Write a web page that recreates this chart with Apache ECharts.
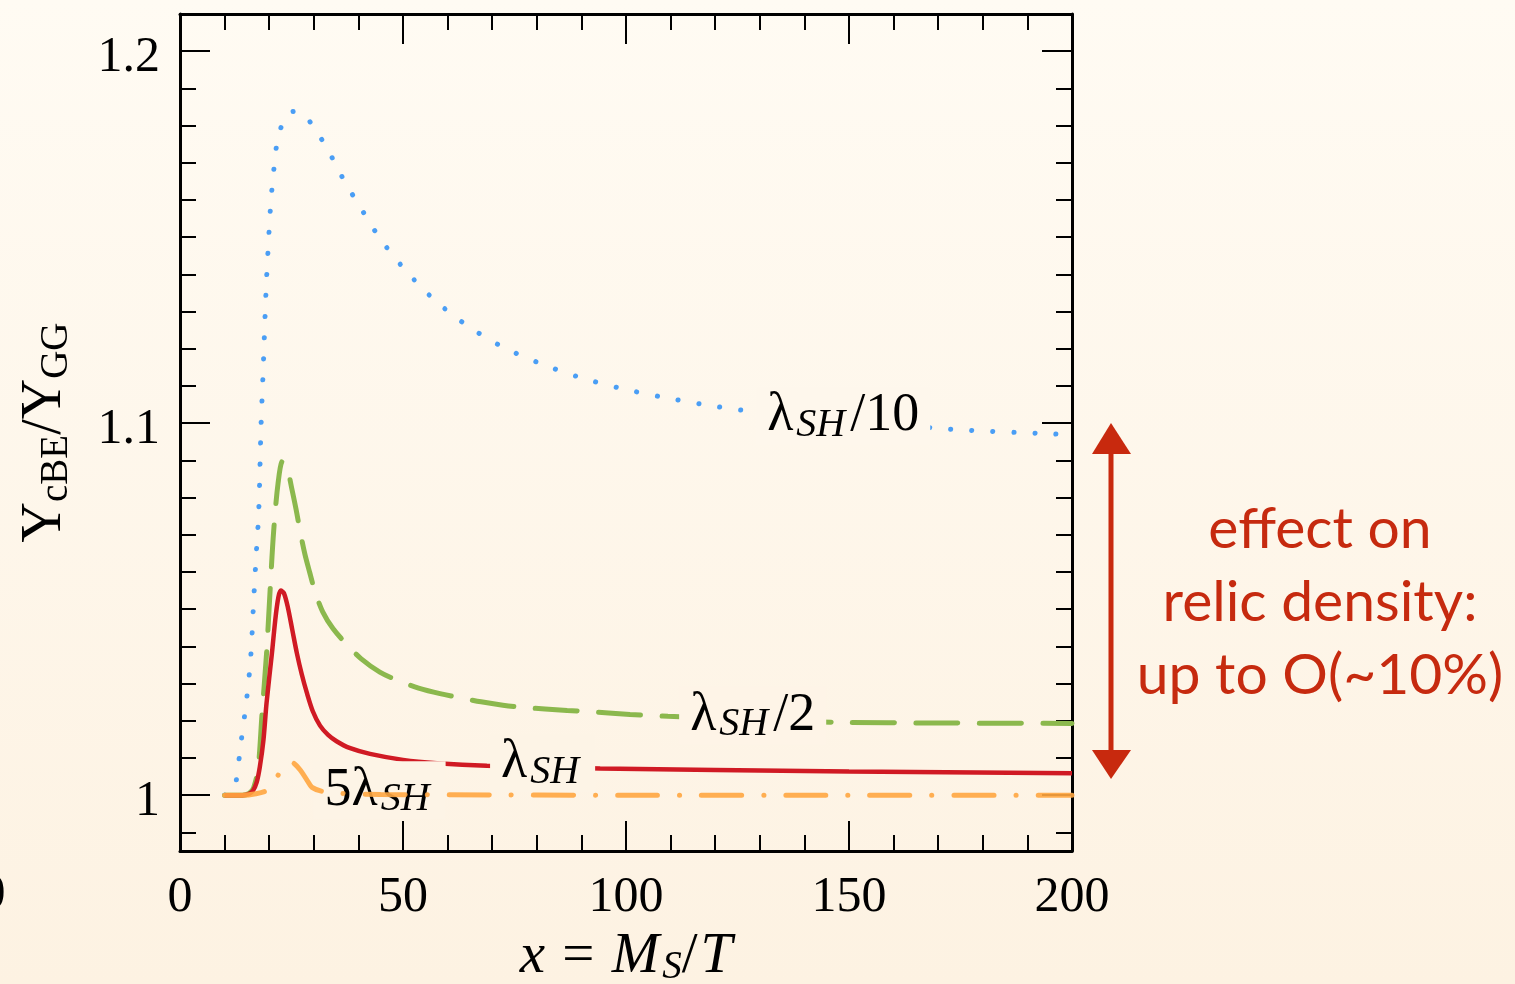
<!DOCTYPE html>
<html><head><meta charset="utf-8">
<script src="https://cdn.jsdelivr.net/npm/echarts@6/dist/echarts.min.js"></script>
<style>html,body{margin:0;padding:0;width:1515px;height:984px;overflow:hidden;} #c{width:1515px;height:984px;}</style>
</head><body><div id="c"></div><script>
// ---- data ----
const xTicks = [0, 50, 100, 150, 200];
const yTicksMajor = [1, 1.1, 1.2];
const yTicksMinor = [0.99, 1.01, 1.02, 1.03, 1.04, 1.05, 1.06, 1.07, 1.08, 1.09, 1.11, 1.12, 1.13, 1.14, 1.15, 1.16, 1.17, 1.18, 1.19];

const blueX = [10, 11, 12, 12.56, 13.74, 14.96, 15.85, 16.59, 17.11, 17.65, 18.16, 18.72, 19.28, 19.84, 20.40, 20.85, 21.30, 21.97, 23.54, 25.4, 27.35, 30.27, 32.74, 34.98, 37.2, 39.7, 44.6, 50.4, 57.0, 64.3, 72.2, 80.7, 89.7, 98.7, 107.8, 117.0, 126.2, 150, 172.6, 196, 200];
const blueY = [1.0, 1.0005, 1.0015, 1.0035, 1.0147, 1.0260, 1.0370, 1.0539, 1.0651, 1.0761, 1.0987, 1.1166, 1.1354, 1.1488, 1.1601, 1.1657, 1.1713, 1.1767, 1.1820, 1.1838, 1.1834, 1.1791, 1.1743, 1.1694, 1.1643, 1.1595, 1.1501, 1.1413, 1.1332, 1.1263, 1.1206, 1.1161, 1.1123, 1.1094, 1.1071, 1.1051, 1.1035, 1.1008, 1.0984, 1.0971, 1.0970];

const greenX = [10, 14, 15.5, 16.5, 17.5, 18.4, 19.4, 20.2, 21.0, 22.0, 23.0, 24.0, 25.0, 26.0, 27.0, 28.0, 29.1, 30.3, 32.0, 34.3, 37.4, 40.5, 44.8, 49.3, 53.5, 58.3, 62.8, 67.5, 72.4, 76.9, 86.8, 91.3, 100.9, 109.4, 128, 147.5, 170, 200];
const greenY = [1.0, 1.0, 1.0005, 1.002, 1.007, 1.022, 1.038, 1.055, 1.071, 1.084, 1.0898, 1.0882, 1.0828, 1.077, 1.0705, 1.0648, 1.0598, 1.0546, 1.0493, 1.0448, 1.0405, 1.0368, 1.0331, 1.0306, 1.0288, 1.0273, 1.0262, 1.0251, 1.0242, 1.0236, 1.0228, 1.0225, 1.0217, 1.0212, 1.0203, 1.0196, 1.0194, 1.0193];

const redX = [10, 14, 15.5, 16.4, 17.2, 17.9, 18.7, 19.4, 20.6, 21.7, 22.6, 23.3, 24.2, 25.2, 26.2, 27.3, 28.4, 29.8, 31.4, 33.2, 35.1, 38.0, 42.6, 50, 57.6, 68.8, 94.2, 120, 150, 200];
const redY = [1.0, 1.0, 1.0004, 1.0013, 1.0035, 1.0076, 1.0147, 1.0247, 1.038, 1.0505, 1.055, 1.0543, 1.0504, 1.0443, 1.0382, 1.0325, 1.0277, 1.0225, 1.0187, 1.0162, 1.0145, 1.0127, 1.0111, 1.0095, 1.0086, 1.0079, 1.0072, 1.0068, 1.0064, 1.0059];

const orangeX = [10, 14, 17, 19.5, 21, 22, 23.3, 24.5, 25.5, 27, 28.5, 29.6, 32, 36, 45, 60, 100, 150, 200];
const orangeY = [1.0, 1.0, 1.0004, 1.0013, 1.0033, 1.0054, 1.0075, 1.0088, 1.0086, 1.0067, 1.0040, 1.0021, 1.0010, 1.0005, 1.0002, 1.0001, 1.0, 1.0, 1.0];

// label anchor positions (data coords)
const labelBlue = [148.7, 1.1019];
const labelGreen = [128.4, 1.0214];
const labelRed = [81.3, 1.0086];
const labelOrange = [44.75, 1.0013];

// ---- chart ----
const SERIF = 'Liberation Serif';
function zip(xs, ys) { return xs.map((x, i) => [x, ys[i]]); }
const labRich = {
  m: { fontFamily: SERIF, fontSize: 54, lineHeight: 58, color: '#000' },
  s: { fontFamily: SERIF, fontStyle: 'italic', fontSize: 40, lineHeight: 28, verticalAlign: 'bottom', color: '#000', padding: [0, 5, 0, 3] }
};
function curveLabel(coord, text, bg) {
  return {
    symbol: 'rect', symbolSize: 1, silent: true,
    itemStyle: { color: 'rgba(0,0,0,0)' },
    label: { show: true, position: 'inside', formatter: text, backgroundColor: bg, padding: [0, 11], rich: labRich },
    data: [{ coord: coord }]
  };
}
const black = '#000';
const tickStyle = { color: black, width: 2 };
function xAx(pos, showLabel) {
  return {
    type: 'value', position: pos, min: 0, max: 200, interval: 50,
    axisLine: { show: true, onZero: false, lineStyle: { color: black, width: 3 } },
    axisTick: { show: true, inside: true, length: 30, lineStyle: tickStyle },
    minorTick: { show: true, splitNumber: 5, length: 16, lineStyle: tickStyle },
    splitLine: { show: false }, minorSplitLine: { show: false },
    axisLabel: { show: showLabel, fontFamily: SERIF, fontSize: 50, color: black, margin: 22 },
    name: showLabel ? '{i|x}{r| = }{i|M}{si|S}{r|/}{i|T}' : '',
    nameLocation: 'middle', nameGap: 76,
    nameTextStyle: {
      rich: {
        i: { fontFamily: SERIF, fontStyle: 'italic', fontSize: 57, lineHeight: 60, color: black, padding: [0, 3, 0, 3] },
        r: { fontFamily: SERIF, fontSize: 57, lineHeight: 60, color: black },
        si: { fontFamily: SERIF, fontStyle: 'italic', fontSize: 39, lineHeight: 28, verticalAlign: 'bottom', color: black }
      }
    }
  };
}
function yAx(pos, major, showLine, showLabel) {
  const vals = major ? yTicksMajor : yTicksMinor;
  return {
    type: 'value', position: pos, min: 0.985, max: 1.21,
    axisLine: { show: showLine, onZero: false, lineStyle: { color: black, width: 3 } },
    axisTick: { show: true, inside: true, length: major ? 30 : 16, lineStyle: tickStyle, customValues: vals },
    splitLine: { show: false },
    axisLabel: { show: showLabel, customValues: vals, fontFamily: SERIF, fontSize: 50, color: black, margin: 20, verticalAlign: 'top', lineHeight: 14 },
    name: showLabel ? '{m|Y}{s|cBE}{m|/Y}{s|GG}' : '',
    nameLocation: 'middle', nameRotate: 90, nameGap: 104,
    nameTextStyle: {
      rich: {
        m: { fontFamily: SERIF, fontSize: 56, lineHeight: 62, color: black },
        s: { fontFamily: SERIF, fontSize: 39, lineHeight: 30, verticalAlign: 'bottom', color: black }
      }
    }
  };
}

const chart = echarts.init(document.getElementById('c'), null, { renderer: 'canvas' });
chart.setOption({
  animation: false,
  backgroundColor: { type: 'linear', x: 0, y: 0, x2: 0, y2: 1, colorStops: [{ offset: 0, color: '#fffbf3' }, { offset: 1, color: '#fdf2e2' }] },
  grid: { left: 180, right: 443, top: 14, bottom: 133, containLabel: false, outerBoundsMode: 'none' },
  xAxis: [xAx('bottom', true), xAx('top', false)],
  yAxis: [yAx('left', true, true, true), yAx('left', false, false, false), yAx('right', true, true, false), yAx('right', false, false, false)],
  series: [
    { type: 'line', data: zip(blueX, blueY), symbol: 'none', smooth: 0.3, z: 2,
      lineStyle: { color: '#4a9ef5', width: 5, type: [0.1, 21], cap: 'round' },
      markPoint: curveLabel(labelBlue, '{m|λ}{s|SH}{m|/10}', '#fef7ec') },
    { type: 'line', data: zip(greenX, greenY), symbol: 'none', smooth: 0.3, z: 3,
      lineStyle: { color: '#8bb84d', width: 5, type: [42, 21.5], cap: 'round' },
      markPoint: curveLabel(labelGreen, '{m|λ}{s|SH}{m|/2}', '#fef4e7') },
    { type: 'line', data: zip(redX, redY), symbol: 'none', smooth: 0.3, z: 4,
      lineStyle: { color: '#d01a24', width: 4.5 },
      markPoint: curveLabel(labelRed, '{m|λ}{s|SH}', '#fdf4e6') },
    { type: 'line', data: zip(orangeX, orangeY), symbol: 'none', smooth: 0.3, z: 5,
      lineStyle: { color: '#ffa640', width: 5, type: [40, 22, 0.1, 22], cap: 'round', opacity: 0.9 },
      markPoint: curveLabel(labelOrange, '{m|5λ}{s|SH}', '#fdf4e6') }
  ],
  graphic: [
    { type: 'text', x: -7, y: 895, style: { text: '0', fontFamily: SERIF, fontSize: 50, fill: black, align: 'center', verticalAlign: 'middle' } },
    { type: 'line', shape: { x1: 1111, y1: 448, x2: 1111, y2: 756 }, style: { stroke: '#c8290e', lineWidth: 5 } },
    { type: 'polygon', shape: { points: [[1111, 423], [1092, 454], [1131, 454]] }, style: { fill: '#c8290e' } },
    { type: 'polygon', shape: { points: [[1111, 779], [1092, 750], [1131, 750]] }, style: { fill: '#c8290e' } },
    { type: 'text', x: 1320, y: 493, style: { text: 'effect on\nrelic density:\nup to O(~10%)', fontFamily: 'Lato', fontSize: 57, lineHeight: 73, fill: '#c62a0f', align: 'center', verticalAlign: 'top' } }
  ]
});
</script></body></html>
